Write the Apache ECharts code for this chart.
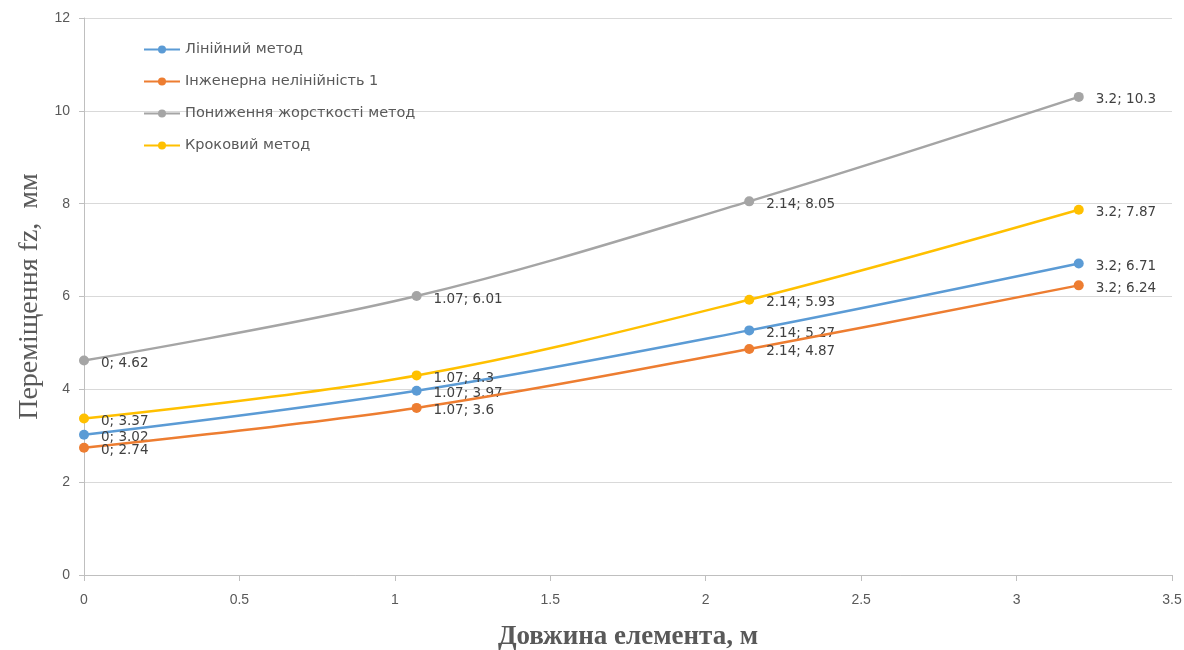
<!DOCTYPE html>
<html><head><meta charset="utf-8">
<script src="https://cdn.jsdelivr.net/npm/echarts@6/dist/echarts.min.js"></script>
<style>html,body{margin:0;padding:0;background:#fff}#c{width:1184px;height:650px}</style>
</head><body><div id="c"></div>
<script>
const xValues = [0, 1.07, 2.14, 3.2];
const seriesNames = ['Лінійний метод', 'Інженерна нелінійність 1', 'Пониження жорсткості метод', 'Кроковий метод'];
const linear = [3.02, 3.97, 5.27, 6.71];
const engineering = [2.74, 3.6, 4.87, 6.24];
const stiffness = [4.62, 6.01, 8.05, 10.3];
const stepMethod = [3.37, 4.3, 5.93, 7.87];
const colors = ['#5B9BD5', '#ED7D31', '#A5A5A5', '#FFC000'];
const xTicks = [0, 0.5, 1, 1.5, 2, 2.5, 3, 3.5];
const yTicks = [0, 2, 4, 6, 8, 10, 12];

const chart = echarts.init(document.getElementById('c'));
const allValues = [linear, engineering, stiffness, stepMethod];
const series = allValues.map((vals, i) => ({
  name: seriesNames[i],
  type: 'line',
  smooth: 0.35,
  symbol: 'circle',
  symbolSize: 10,
  color: colors[i],
  lineStyle: { width: 2.5, color: colors[i] },
  itemStyle: { color: colors[i] },
  data: vals.map((v, k) => [xValues[k], v]),
  label: {
    show: true,
    position: 'right',
    distance: 12,
    offset: [0, 3],
    fontFamily: 'DejaVu Sans',
    fontSize: 13.5,
    color: '#404040',
    formatter: p => p.value[0] + '; ' + p.value[1]
  },
  z: 2 + i
}));

chart.setOption({
  animation: false,
  backgroundColor: '#fff',
  grid: { left: 84, right: 12, top: 18, bottom: 75, containLabel: false, outerBoundsMode: 'none' },
  legend: {
    orient: 'vertical',
    left: 138,
    top: 37,
    itemWidth: 36,
    itemHeight: 10,
    itemGap: 17,
    data: seriesNames,
    textStyle: { fontFamily: 'DejaVu Sans', fontSize: 14.5, color: '#595959' }
  },
  xAxis: {
    type: 'value',
    min: xTicks[0],
    max: xTicks[xTicks.length - 1],
    interval: 0.5,
    name: 'Довжина елемента, м',
    nameLocation: 'middle',
    nameGap: 49,
    nameTextStyle: { fontFamily: 'Liberation Serif', fontWeight: 'bold', fontSize: 27, color: '#595959' },
    axisLine: { show: true, lineStyle: { color: '#BFBFBF', width: 1 } },
    axisTick: { show: true, length: 6, lineStyle: { color: '#BFBFBF' } },
    axisLabel: { margin: 18, fontFamily: 'Liberation Sans', fontSize: 14, color: '#595959' },
    splitLine: { show: false }
  },
  yAxis: {
    type: 'value',
    min: yTicks[0],
    max: yTicks[yTicks.length - 1],
    interval: 2,
    name: 'Переміщення fz,  мм',
    nameLocation: 'middle',
    nameGap: 40,
    nameTextStyle: { fontFamily: 'Liberation Serif', fontSize: 28, color: '#595959' },
    axisLine: { show: true, lineStyle: { color: '#BFBFBF', width: 1 } },
    axisTick: { show: true, length: 5, lineStyle: { color: '#BFBFBF' } },
    axisLabel: { margin: 14, fontFamily: 'Liberation Sans', fontSize: 14, color: '#595959' },
    splitLine: { show: true, lineStyle: { color: '#D9D9D9', width: 1 } }
  },
  series: series
});
</script></body></html>
